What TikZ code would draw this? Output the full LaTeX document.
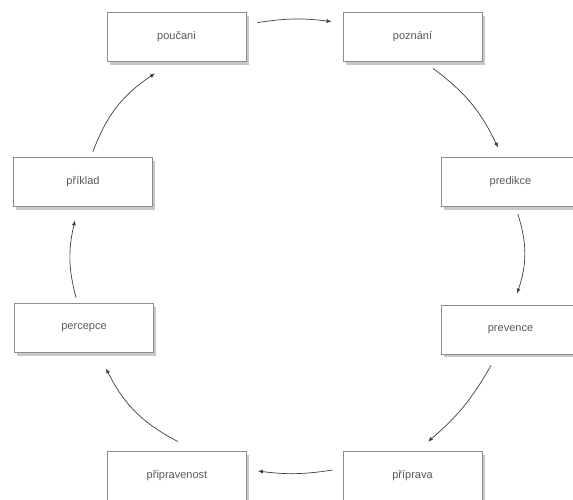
\documentclass[tikz,border=0pt]{standalone}
\usepackage{fontspec}
\setmainfont{Liberation Sans}
\usetikzlibrary{arrows.meta,shadows,calc}
\begin{document}
\begin{tikzpicture}[x=1pt,y=-1pt,
  box/.style={draw=black!45, line width=0.8pt, fill=white, minimum width=139pt, minimum height=49pt,
    inner sep=0pt, font=\fontsize{11}{13}\selectfont, text=black!65,
    drop shadow={shadow xshift=2.5pt, shadow yshift=-3pt, fill=black, opacity=0.22}},
  link/.style={draw=black!75, line width=0.7pt, -{Latex[length=5pt,width=4pt]}}]
\clip (0,0) rectangle (573,499);
\fill[white] (0,0) rectangle (573,499);
\node[box] (poucani) at (176.5,37) {poučani};
\node[box] (poznani) at (412.5,37) {poznání};
\node[box] (priklad) at (83,182) {příklad};
\node[box] (predikce) at (510.5,182) {predikce};
\node[box] (percepce) at (84,328) {percepce};
\node[box] (prevence) at (510.5,329.5) {prevence};
\node[box] (pripravenost) at (177,476) {připravenost};
\node[box] (priprava) at (412.5,476) {příprava};
\draw[link] ([shift={(11,10.5)}]poucani.north east) to[bend left=8] ([shift={(-11,9.5)}]poznani.north west);
\draw[link] ([shift={(20.5,6.5)}]poznani.south) to[bend left=14] ([shift={(-12.5,-9.5)}]predikce.north);
\draw[link] ([shift={(7.5,7.5)}]predikce.south) to[bend left=18] ([shift={(6.5,-11)}]prevence.north);
\draw[link] ([shift={(-19.5,11)}]prevence.south) to[bend left=10] ([shift={(15.5,-9.5)}]priprava.north);
\draw[link] ([shift={(-10,-6)}]priprava.west) to[bend left=8] ([shift={(11,-5)}]pripravenost.east);
\draw[link] ([shift={(1,-9.5)}]pripravenost.north) to[bend left=18] ([shift={(22,15.5)}]percepce.south);
\draw[link] ([shift={(-8,-5.5)}]percepce.north) to[bend left=14] ([shift={(-8,13.5)}]priklad.south);
\draw[link] ([shift={(10,-5.5)}]priklad.north) to[bend left=18] ([shift={(-21.5,11.5)}]poucani.south);
\end{tikzpicture}
\end{document}
